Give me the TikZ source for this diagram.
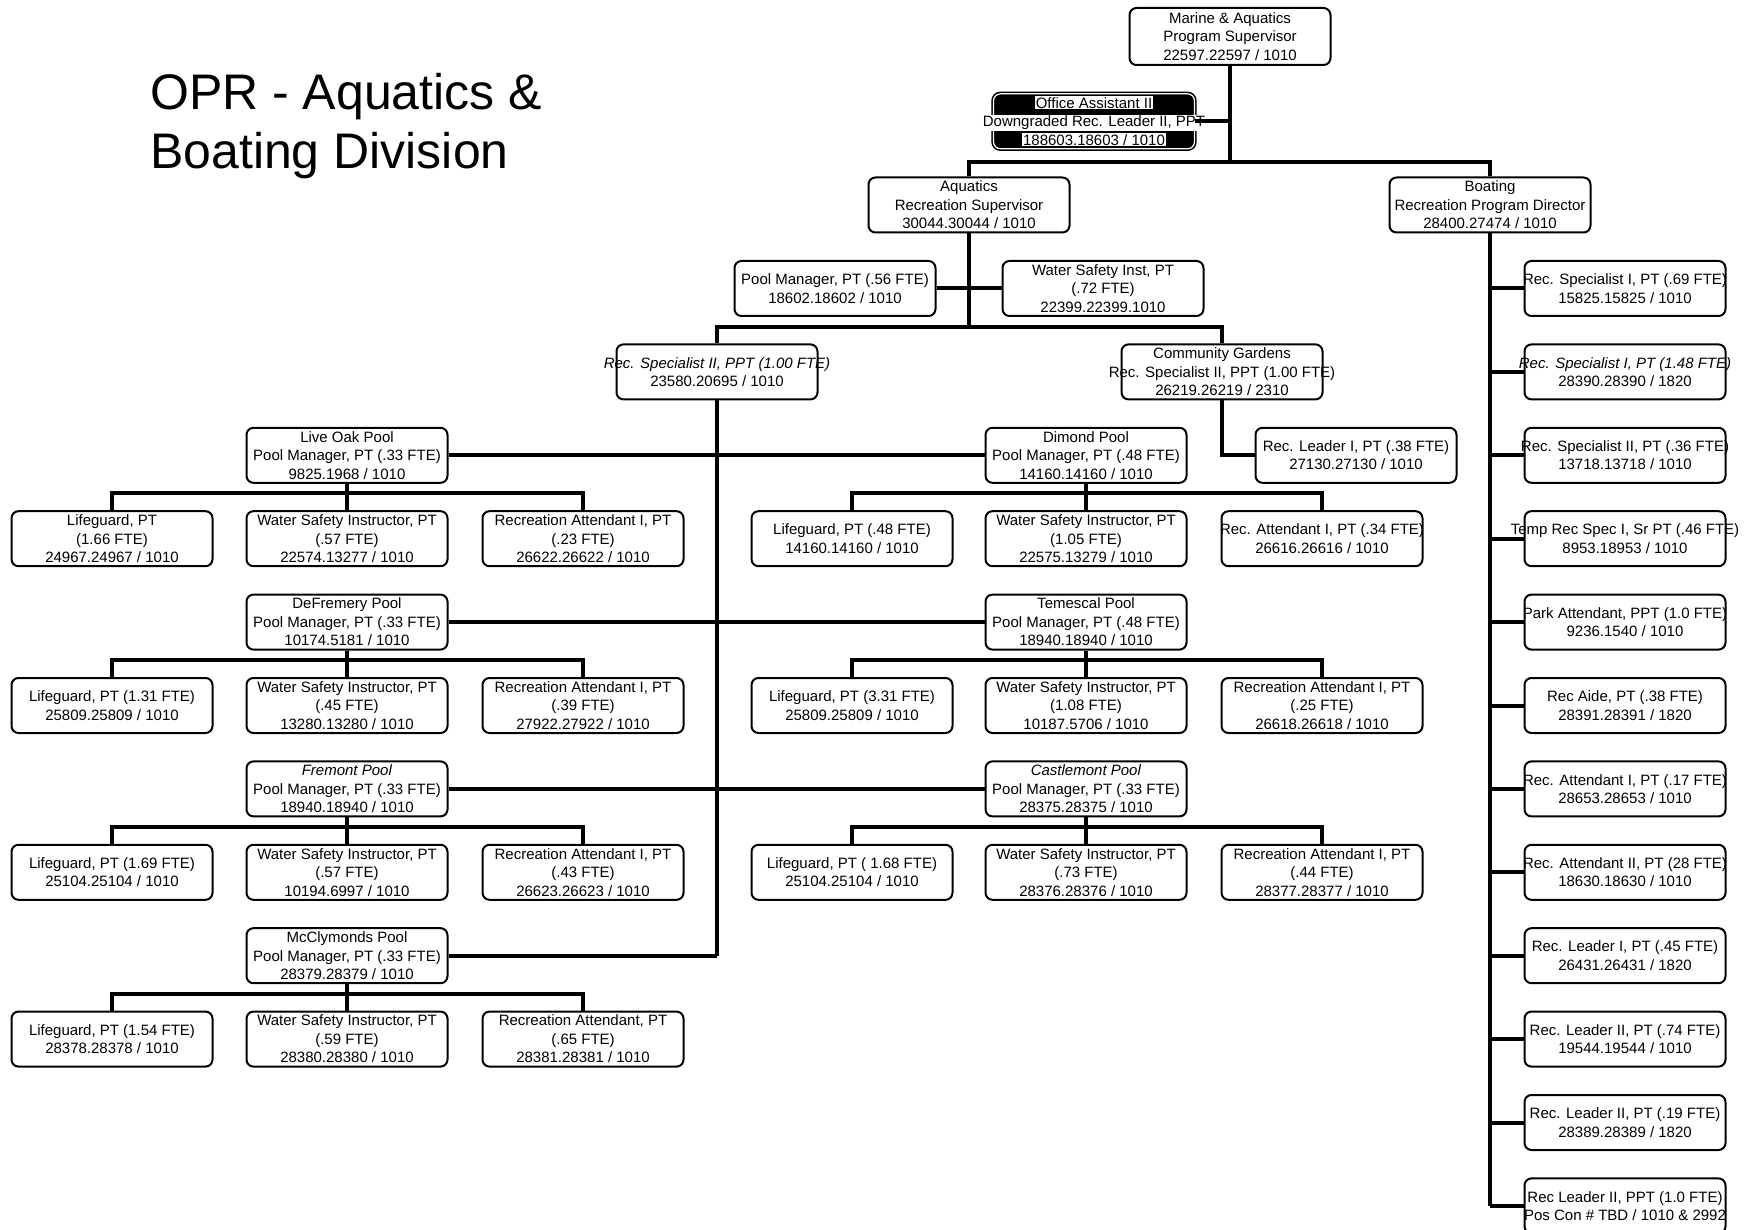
\documentclass[tikz,border=0pt]{standalone}
\usepackage{fontspec}
\setmainfont{Liberation Sans}
\newcommand\whiteline[1]{{\setlength\fboxsep{0.8pt}\colorbox{white}{#1}}}
\newcommand\ovl[1]{\makebox[180pt][c]{#1}}
\begin{document}
\begin{tikzpicture}[x=1pt,y=-1pt,
  box/.style={draw, line width=2pt, rounded corners=7pt, minimum width=201pt,
    minimum height=55pt, inner sep=0pt, align=center,
    font=\fontsize{15}{18.5}\selectfont, anchor=north, fill=white},
  oabox/.style={box, fill=black, draw=black, double=white, double distance=1.2pt, line width=1.6pt},
  conn/.style={line width=4pt, line join=miter},
]
\useasboundingbox[fill=white] (0,0) rectangle (1754,1230);

\node[anchor=north west, inner sep=0pt, align=left, font=\fontsize{50}{59}\selectfont] (title) at (150,73) {OPR - Aquatics \&\\Boating Division};

% top
\node[box, minimum height=57pt] (mas) at (1230,7) {Marine \& Aquatics\\Program Supervisor\\22597.22597 / 1010};
\node[oabox] (oa) at (1094,93) {\whiteline{Office Assistant II}\\\ovl{\whiteline{Downgraded Rec. Leader II, PPT}}\\\whiteline{188603.18603 / 1010}};
\node[box] (aq) at (969,176.5) {Aquatics\\Recreation Supervisor\\30044.30044 / 1010};
\node[box] (bo) at (1490,176.5) {Boating\\Recreation Program Director\\28400.27474 / 1010};

% aquatics level
\node[box] (pm) at (835,260) {Pool Manager, PT (.56 FTE)\\18602.18602 / 1010};
\node[box] (wsi) at (1103,260) {Water Safety Inst, PT\\(.72 FTE)\\22399.22399.1010};
\node[box] (rs) at (717,343.4) {\ovl{\textit{Rec. Specialist II, PPT (1.00 FTE)}}\\23580.20695 / 1010};
\node[box] (cg) at (1222,343.4) {Community Gardens\\\ovl{Rec. Specialist II, PPT (1.00 FTE)}\\26219.26219 / 2310};
\node[box] (rl) at (1356,426.8) {Rec. Leader I, PT (.38 FTE)\\27130.27130 / 1010};

% pools
\node[box] (lo) at (347,426.8) {Live Oak Pool\\Pool Manager, PT (.33 FTE)\\9825.1968 / 1010};
\node[box] (di) at (1086,426.8) {Dimond Pool\\Pool Manager, PT (.48 FTE)\\14160.14160 / 1010};
\node[box] (df) at (347,593.6) {DeFremery Pool\\Pool Manager, PT (.33 FTE)\\10174.5181 / 1010};
\node[box] (te) at (1086,593.6) {Temescal Pool\\Pool Manager, PT (.48 FTE)\\18940.18940 / 1010};
\node[box] (fr) at (347,760.4) {\textit{Fremont Pool}\\Pool Manager, PT (.33 FTE)\\18940.18940 / 1010};
\node[box] (ca) at (1086,760.4) {\textit{Castlemont Pool}\\Pool Manager, PT (.33 FTE)\\28375.28375 / 1010};
\node[box] (mc) at (347,927.2) {McClymonds Pool\\Pool Manager, PT (.33 FTE)\\28379.28379 / 1010};

% Live Oak children
\node[box] (loa) at (112,510.2) {Lifeguard, PT\\(1.66 FTE)\\24967.24967 / 1010};
\node[box] (lob) at (347,510.2) {Water Safety Instructor, PT\\(.57 FTE)\\22574.13277 / 1010};
\node[box] (loc) at (583,510.2) {Recreation Attendant I, PT\\(.23 FTE)\\26622.26622 / 1010};
% Dimond children
\node[box] (dia) at (852,510.2) {Lifeguard, PT (.48 FTE)\\14160.14160 / 1010};
\node[box] (dib) at (1086,510.2) {Water Safety Instructor, PT\\(1.05 FTE)\\22575.13279 / 1010};
\node[box] (dic) at (1322,510.2) {\ovl{Rec. Attendant I, PT (.34 FTE)}\\26616.26616 / 1010};
% DeFremery children
\node[box] (dfa) at (112,677) {Lifeguard, PT (1.31 FTE)\\25809.25809 / 1010};
\node[box] (dfb) at (347,677) {Water Safety Instructor, PT\\(.45 FTE)\\13280.13280 / 1010};
\node[box] (dfc) at (583,677) {Recreation Attendant I, PT\\(.39 FTE)\\27922.27922 / 1010};
% Temescal children
\node[box] (tea) at (852,677) {Lifeguard, PT (3.31 FTE)\\25809.25809 / 1010};
\node[box] (teb) at (1086,677) {Water Safety Instructor, PT\\(1.08 FTE)\\10187.5706 / 1010};
\node[box] (tec) at (1322,677) {Recreation Attendant I, PT\\(.25 FTE)\\26618.26618 / 1010};
% Fremont children
\node[box] (fra) at (112,843.8) {Lifeguard, PT (1.69 FTE)\\25104.25104 / 1010};
\node[box] (frb) at (347,843.8) {Water Safety Instructor, PT\\(.57 FTE)\\10194.6997 / 1010};
\node[box] (frc) at (583,843.8) {Recreation Attendant I, PT\\(.43 FTE)\\26623.26623 / 1010};
% Castlemont children
\node[box] (caa) at (852,843.8) {Lifeguard, PT ( 1.68 FTE)\\25104.25104 / 1010};
\node[box] (cab) at (1086,843.8) {Water Safety Instructor, PT\\(.73 FTE)\\28376.28376 / 1010};
\node[box] (cac) at (1322,843.8) {Recreation Attendant I, PT\\(.44 FTE)\\28377.28377 / 1010};
% McClymonds children
\node[box] (mca) at (112,1010.6) {Lifeguard, PT (1.54 FTE)\\28378.28378 / 1010};
\node[box] (mcb) at (347,1010.6) {Water Safety Instructor, PT\\(.59 FTE)\\28380.28380 / 1010};
\node[box] (mcc) at (583,1010.6) {Recreation Attendant, PT\\(.65 FTE)\\28381.28381 / 1010};

% Boating column
\node[box] (b1) at (1625,260) {\ovl{Rec. Specialist I, PT (.69 FTE)}\\15825.15825 / 1010};
\node[box] (b2) at (1625,343.4) {\ovl{\textit{Rec. Specialist I, PT (1.48 FTE)}}\\28390.28390 / 1820};
\node[box] (b3) at (1625,426.8) {\ovl{Rec. Specialist II, PT (.36 FTE)}\\13718.13718 / 1010};
\node[box] (b4) at (1625,510.2) {\ovl{Temp Rec Spec I, Sr PT (.46 FTE)}\\8953.18953 / 1010};
\node[box] (b5) at (1625,593.6) {\ovl{Park Attendant, PPT (1.0 FTE)}\\9236.1540 / 1010};
\node[box] (b6) at (1625,677) {Rec Aide, PT (.38 FTE)\\28391.28391 / 1820};
\node[box] (b7) at (1625,760.4) {\ovl{Rec. Attendant I, PT (.17 FTE)}\\28653.28653 / 1010};
\node[box] (b8) at (1625,843.8) {\ovl{Rec. Attendant II, PT (28 FTE)}\\18630.18630 / 1010};
\node[box] (b9) at (1625,927.2) {Rec. Leader I, PT (.45 FTE)\\26431.26431 / 1820};
\node[box] (b10) at (1625,1010.6) {Rec. Leader II, PT (.74 FTE)\\19544.19544 / 1010};
\node[box] (b11) at (1625,1094) {Rec. Leader II, PT (.19 FTE)\\28389.28389 / 1820};
\node[box] (b12) at (1625,1177.4) {\ovl{Rec Leader II, PPT (1.0 FTE)}\\\ovl{Pos Con \# TBD / 1010 \& 2992}};

% connectors
\coordinate (busA) at (0,162);
\coordinate (busB) at (0,327);
\draw[conn] (mas.south) -- (mas.south |- busA);
\draw[conn] (oa.east) -- (oa.east -| mas.south);
\draw[conn] (aq.north) -- (aq.north |- busA) -- (bo.north |- busA) -- (bo.north);
\draw[conn] (aq.south) -- (aq.south |- busB);
\draw[conn] (pm.east) -- (wsi.west);
\draw[conn] (rs.north) -- (rs.north |- busB) -- (cg.north |- busB) -- (cg.north);
\draw[conn] (cg.south) |- (rl.west);
\draw[conn] (rs.south) -- (rs.south |- mc.east);
\draw[conn] (lo.east) -- (di.west);
\draw[conn] (df.east) -- (te.west);
\draw[conn] (fr.east) -- (ca.west);
\draw[conn] (mc.east) -- (mc.east -| rs.south);
\foreach \p in {lo,di,df,te,fr,ca,mc}{
  \draw[conn] (\p.south) -- (\p b.north);
  \draw[conn] (\p a.north) -- ++(0,-17) -| (\p c.north);
}
\draw[conn] (bo.south) -- (bo.south |- b12.west);
\foreach \i in {1,...,12}{
  \draw[conn] (b\i.west) -- (b\i.west -| bo.south);
}
\end{tikzpicture}
\end{document}
